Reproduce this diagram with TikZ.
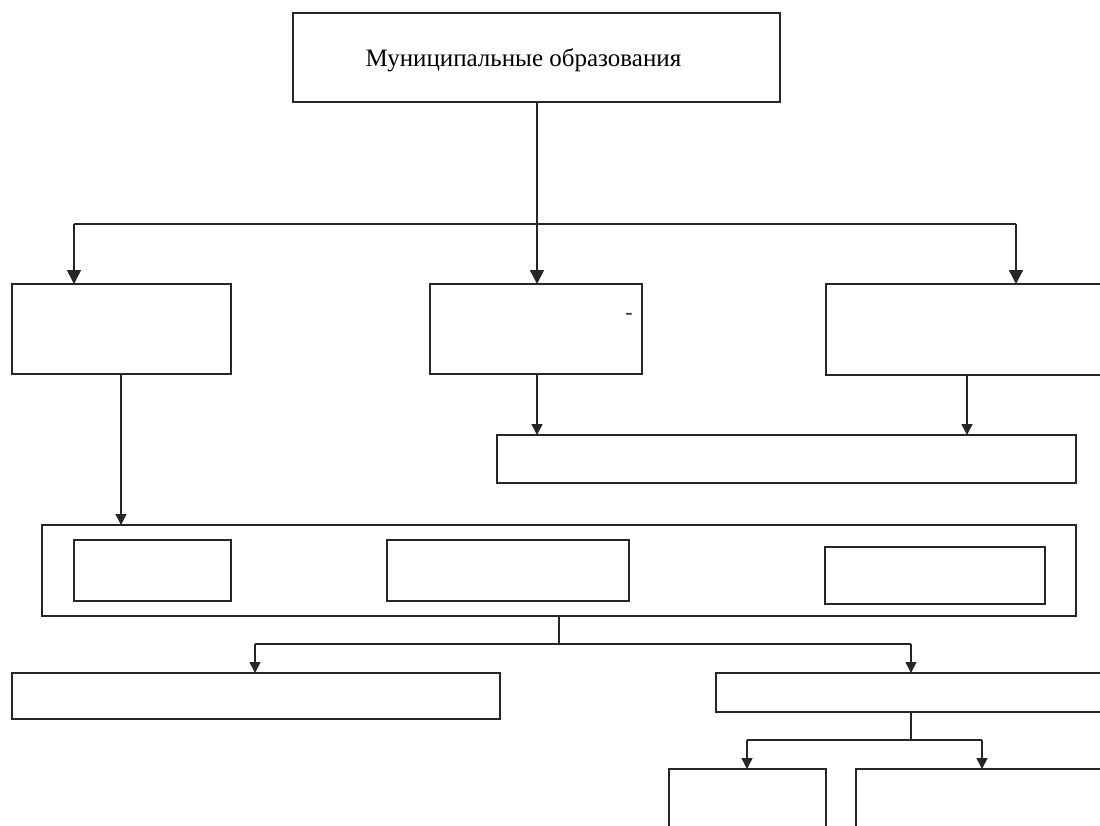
\documentclass[tikz,border=0pt]{standalone}
\usepackage{fontspec}
\setmainfont{Liberation Serif}
\usetikzlibrary{arrows.meta,calc}
\begin{document}
\begin{tikzpicture}[x=1pt,y=1pt,
  box/.style={draw=black!85, line width=1.5pt, inner sep=0pt, outer sep=0pt, fill=none},
  conn/.style={draw=black!85, line width=1.5pt},
  bigarr/.style={conn, -{Triangle[width=14pt,length=14pt]}},
  smallarr/.style={conn, -{Triangle[width=11pt,length=11pt]}}]
\useasboundingbox (0,0) rectangle (1100,-825);
\clip (0,0) rectangle (1100,-825);
% boxes
\node[box, minimum width=487pt, minimum height=89pt] (top) at (536.5,-57.5) {};
\node[inner sep=0pt, font=\fontsize{25}{29}\selectfont] (title) at (523.5,-60) {Муниципальные образования};
\node[box, minimum width=219pt, minimum height=90pt] (L) at (121.5,-329) {};
\node[box, minimum width=212pt, minimum height=90pt] (M) at (536,-329) {};
\node[box, minimum width=304pt, minimum height=91pt] (R) at (978,-329.5) {};
\node[box, minimum width=579pt, minimum height=48pt] (W) at (786.5,-459) {};
\node[box, minimum width=1034pt, minimum height=91pt] (C) at (559,-570.5) {};
\node[box, minimum width=157pt, minimum height=61pt] (c1) at (152.5,-570.5) {};
\node[box, minimum width=242pt, minimum height=61pt] (c2) at (508,-570.5) {};
\node[box, minimum width=220pt, minimum height=57pt] (c3) at (935,-575.5) {};
\node[box, minimum width=488pt, minimum height=46pt] (BL) at (256,-696) {};
\node[box, minimum width=414pt, minimum height=39pt] (BR) at (923,-692.5) {};
\node[box, minimum width=157pt, minimum height=81pt] (BA) at (747.5,-809.5) {};
\node[box, minimum width=274pt, minimum height=81pt] (BB) at (993,-809.5) {};
\node[inner sep=0pt, text=black!75, font=\bfseries\fontsize{22}{24}\selectfont] (dash) at (629,-316) {-};
% connector coordinates
\coordinate (xt) at (537,0);
\coordinate (xl) at (121,0);
\coordinate (hl) at (74,-224);
\coordinate (hr) at (1016,-224);
\coordinate (xr) at (967,0);
\coordinate (j1) at (559,-644);
\coordinate (j1l) at (255,-644);
\coordinate (j1r) at (911,-644);
\coordinate (j2) at (911,-740);
\coordinate (j2l) at (747,-740);
\coordinate (j2r) at (982,-740);
% connectors
\draw[bigarr] (top.south -| xt) -- (M.north -| xt);
\draw[conn] (hl) -- (hr);
\draw[bigarr] (hl) -- (hl |- L.north);
\draw[bigarr] (hr) -- (hr |- R.north);
\draw[smallarr] (L.south -| xl) -- (C.north -| xl);
\draw[smallarr] (M.south -| xt) -- (W.north -| xt);
\draw[smallarr] (R.south -| xr) -- (W.north -| xr);
\draw[conn] (C.south) -- (j1);
\draw[conn] (j1l) -- (j1r);
\draw[smallarr] (j1l) -- (j1l |- BL.north);
\draw[smallarr] (j1r) -- (j1r |- BR.north);
\draw[conn] (BR.south -| j2) -- (j2);
\draw[conn] (j2l) -- (j2r);
\draw[smallarr] (j2l) -- (j2l |- BA.north);
\draw[smallarr] (j2r) -- (j2r |- BB.north);
\end{tikzpicture}
\end{document}
